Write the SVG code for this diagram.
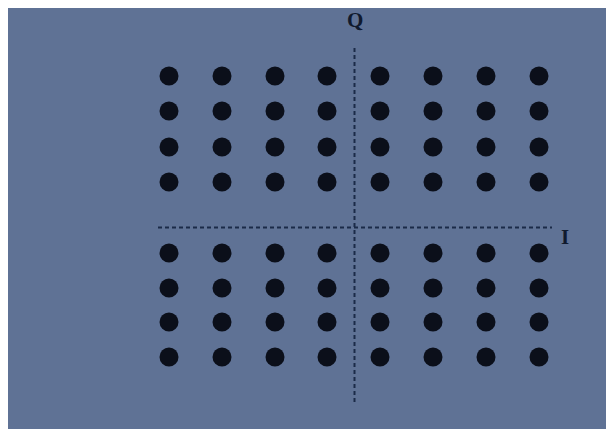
<svg xmlns="http://www.w3.org/2000/svg" width="606" height="429" viewBox="0 0 606 429">
<style>
.dot{fill:#0b0f1a}
.ax{stroke:#1b2a48;stroke-width:2;stroke-dasharray:4 3;fill:none}
.lbl{font-family:"Liberation Serif",serif;font-size:21px;font-weight:bold;fill:#101a2e}
</style>
<rect x="0" y="0" width="606" height="429" fill="#ffffff"/>
<rect x="8" y="8" width="598" height="421" fill="#5f7295"/>
<g id="connectors">
<line class="ax" x1="354.5" y1="48" x2="354.5" y2="402"/>
<line class="ax" x1="158" y1="227.5" x2="552" y2="227.5"/>
</g>
<g id="label-Q"><text class="lbl" x="347" y="27">Q</text></g>
<g id="label-I"><text class="lbl" x="561" y="244">I</text></g>
<g id="points">
<g id="row1"><circle class="dot" cx="169" cy="76" r="9.5"/><circle class="dot" cx="222" cy="76" r="9.5"/><circle class="dot" cx="275" cy="76" r="9.5"/><circle class="dot" cx="327" cy="76" r="9.5"/><circle class="dot" cx="380" cy="76" r="9.5"/><circle class="dot" cx="433" cy="76" r="9.5"/><circle class="dot" cx="486" cy="76" r="9.5"/><circle class="dot" cx="539" cy="76" r="9.5"/></g>
<g id="row2"><circle class="dot" cx="169" cy="111" r="9.5"/><circle class="dot" cx="222" cy="111" r="9.5"/><circle class="dot" cx="275" cy="111" r="9.5"/><circle class="dot" cx="327" cy="111" r="9.5"/><circle class="dot" cx="380" cy="111" r="9.5"/><circle class="dot" cx="433" cy="111" r="9.5"/><circle class="dot" cx="486" cy="111" r="9.5"/><circle class="dot" cx="539" cy="111" r="9.5"/></g>
<g id="row3"><circle class="dot" cx="169" cy="147" r="9.5"/><circle class="dot" cx="222" cy="147" r="9.5"/><circle class="dot" cx="275" cy="147" r="9.5"/><circle class="dot" cx="327" cy="147" r="9.5"/><circle class="dot" cx="380" cy="147" r="9.5"/><circle class="dot" cx="433" cy="147" r="9.5"/><circle class="dot" cx="486" cy="147" r="9.5"/><circle class="dot" cx="539" cy="147" r="9.5"/></g>
<g id="row4"><circle class="dot" cx="169" cy="182" r="9.5"/><circle class="dot" cx="222" cy="182" r="9.5"/><circle class="dot" cx="275" cy="182" r="9.5"/><circle class="dot" cx="327" cy="182" r="9.5"/><circle class="dot" cx="380" cy="182" r="9.5"/><circle class="dot" cx="433" cy="182" r="9.5"/><circle class="dot" cx="486" cy="182" r="9.5"/><circle class="dot" cx="539" cy="182" r="9.5"/></g>
<g id="row5"><circle class="dot" cx="169" cy="253" r="9.5"/><circle class="dot" cx="222" cy="253" r="9.5"/><circle class="dot" cx="275" cy="253" r="9.5"/><circle class="dot" cx="327" cy="253" r="9.5"/><circle class="dot" cx="380" cy="253" r="9.5"/><circle class="dot" cx="433" cy="253" r="9.5"/><circle class="dot" cx="486" cy="253" r="9.5"/><circle class="dot" cx="539" cy="253" r="9.5"/></g>
<g id="row6"><circle class="dot" cx="169" cy="288" r="9.5"/><circle class="dot" cx="222" cy="288" r="9.5"/><circle class="dot" cx="275" cy="288" r="9.5"/><circle class="dot" cx="327" cy="288" r="9.5"/><circle class="dot" cx="380" cy="288" r="9.5"/><circle class="dot" cx="433" cy="288" r="9.5"/><circle class="dot" cx="486" cy="288" r="9.5"/><circle class="dot" cx="539" cy="288" r="9.5"/></g>
<g id="row7"><circle class="dot" cx="169" cy="322" r="9.5"/><circle class="dot" cx="222" cy="322" r="9.5"/><circle class="dot" cx="275" cy="322" r="9.5"/><circle class="dot" cx="327" cy="322" r="9.5"/><circle class="dot" cx="380" cy="322" r="9.5"/><circle class="dot" cx="433" cy="322" r="9.5"/><circle class="dot" cx="486" cy="322" r="9.5"/><circle class="dot" cx="539" cy="322" r="9.5"/></g>
<g id="row8"><circle class="dot" cx="169" cy="357" r="9.5"/><circle class="dot" cx="222" cy="357" r="9.5"/><circle class="dot" cx="275" cy="357" r="9.5"/><circle class="dot" cx="327" cy="357" r="9.5"/><circle class="dot" cx="380" cy="357" r="9.5"/><circle class="dot" cx="433" cy="357" r="9.5"/><circle class="dot" cx="486" cy="357" r="9.5"/><circle class="dot" cx="539" cy="357" r="9.5"/></g>
</g>
</svg>
